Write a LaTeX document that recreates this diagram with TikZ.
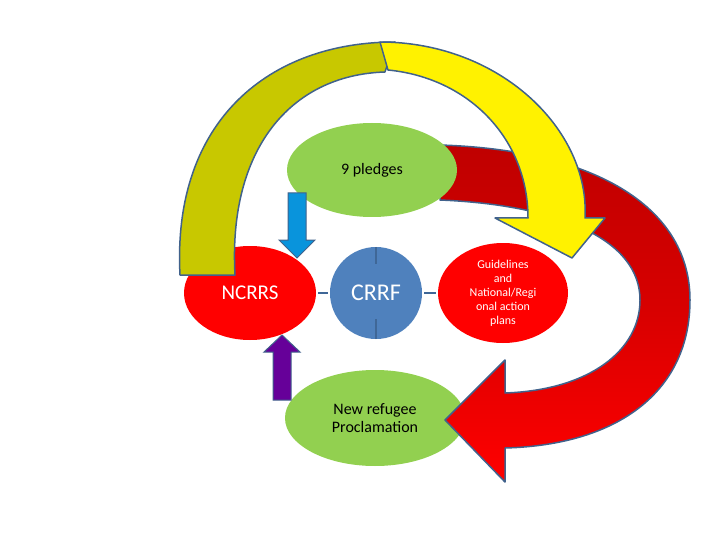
\documentclass[tikz,border=0pt]{standalone}
\usepackage{fontspec}
\setmainfont{Carlito}
\usetikzlibrary{shapes.geometric}
\definecolor{edge}{HTML}{41628C}
\definecolor{leaf}{HTML}{92D050}
\definecolor{olive}{HTML}{C8C800}
\definecolor{blob}{HTML}{4F81BD}
\tikzset{
  blob/.style={ellipse, draw=none, inner sep=0pt, align=center},
  band/.style={draw=edge, line width=1.5pt, line join=round},
  tick/.style={draw=blob!80!black, line width=2pt}
}
\begin{document}
\begin{tikzpicture}[x=1pt,y=-1pt]
    \useasboundingbox (0,0) rectangle (720,540);
    \node[blob, fill=leaf, minimum width=180, minimum height=96, font=\fontsize{16}{18}\selectfont] (procl) at (375,418) {New refugee\\Proclamation};
    % red loop arrow
    \draw[band, top color=red!75!black, bottom color=red, middle color=red!85!black]
      (440,145) .. controls (600,150) and (690,210) .. (690,300)
      .. controls (690,390) and (620,445) .. (505,448) -- (505,482) -- (445,420)
      -- (505,360) -- (505,393) .. controls (590,390) and (640,350) .. (640,300)
      .. controls (640,240) and (560,205) .. (440,200) -- cycle;
    \node[blob, fill=leaf, minimum width=170, minimum height=94, font=\fontsize{16}{18}\selectfont] (pledges) at (372,170) {9 pledges};
    \node[blob, fill=red, minimum width=132, minimum height=94, text=white, font=\fontsize{21}{24}\selectfont] (ncrrs) at (250,293) {NCRRS};
    \node[circle, fill=blob, minimum size=92, inner sep=0pt, font=\fontsize{24}{28}\selectfont, text=white] (crrf) at (376,293) {CRRF};
    \node[blob, fill=red, minimum width=130, minimum height=100, text=white, font=\fontsize{12}{14}\selectfont] (guide) at (503,293) {Guidelines\\and\\National/Regi\\onal action\\plans};
    % short links
    \draw[tick] ([xshift=2]ncrrs.east) -- ([xshift=-2]crrf.west);
    \draw[tick] ([xshift=2]crrf.east) -- ([xshift=-2]guide.west);
    \draw[tick] (crrf.north) -- ++(0,17);
    \draw[tick] (crrf.south) -- ++(0,-20);
    % olive arch
    \draw[band, fill=olive]
      (180,275) .. controls (172,120) and (270,42) .. (395,42)
      -- (385,72) .. controls (290,75) and (228,150) .. (235,275) -- cycle;
    % yellow arch
    \draw[band, fill=yellow]
      (380,42) .. controls (500,42) and (590,130) .. (585,218) -- (605,218)
      -- (572,258) -- (495,218) -- (528,218)
      .. controls (528,140) and (470,78) .. (388,70) -- cycle;
    % block arrows
    \draw[draw=edge, line width=1pt, fill=cyan!80!blue]
      (288,193) -- (306,193) -- (306,240) -- (315,240) -- (297,258) -- (279,240) -- (288,240) -- cycle;
    \draw[draw=edge, line width=1pt, fill=violet!80!blue]
      (273,400) -- (291,400) -- (291,352) -- (300,352) -- (282,335) -- (264,352) -- (273,352) -- cycle;
\end{tikzpicture}
\end{document}
